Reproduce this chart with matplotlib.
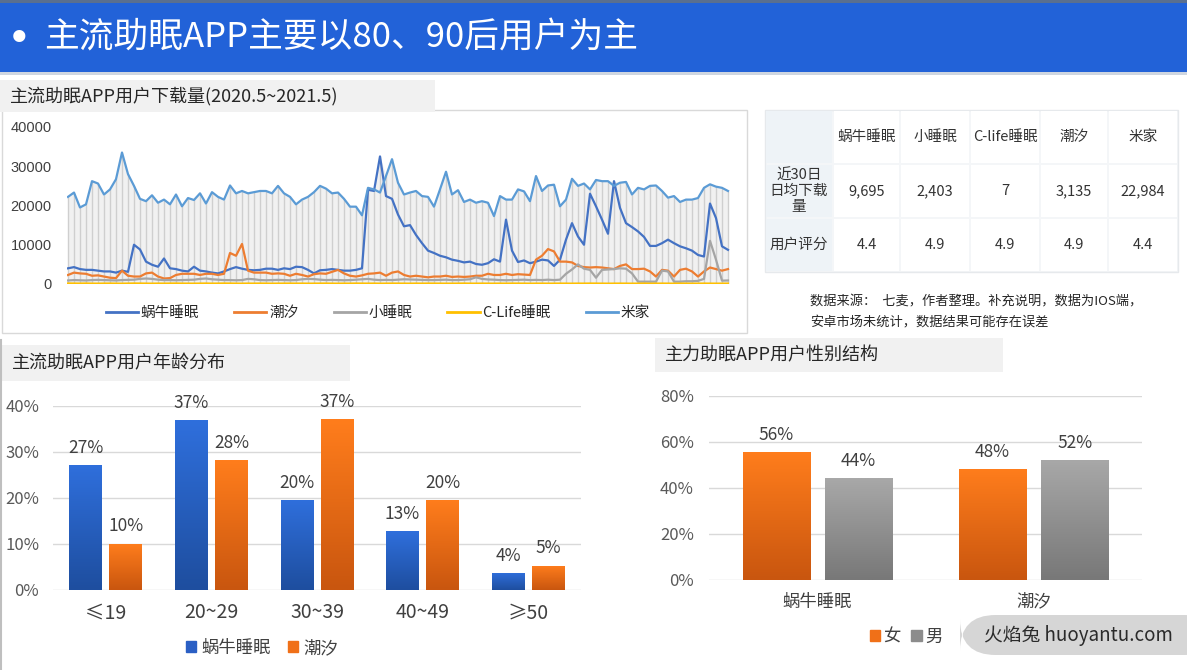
import numpy as np
import matplotlib.pyplot as plt
from matplotlib.patches import Rectangle, FancyBboxPatch, Patch
from matplotlib.lines import Line2D
from matplotlib.colors import LinearSegmentedColormap
from matplotlib.ticker import FuncFormatter, MultipleLocator

plt.rcParams['font.family'] = ['Noto Sans CJK SC', 'DejaVu Sans']

W, H = 1187, 670

# ---- daily downloads (sampled), 2020.5 ~ 2021.5 ----
mijia = [
    22200, 23300, 19500, 20300, 26200, 25600, 22800, 24100, 26700, 33500,
    28000, 25000, 21700, 21100, 22600, 20700, 21500, 20300, 22800, 19800,
    21900, 21400, 23100, 20500, 23400, 22200, 21500, 25100, 23100, 23700,
    23100, 23400, 23700, 23700, 23100, 25000, 23100, 22200, 20300, 21500,
    22200, 23400, 25000, 24300, 23100, 23300, 21700, 19700, 19700, 17500,
    24500, 24100, 23300, 27500, 31800, 25800, 22800, 23300, 23700, 22400,
    22200, 19700, 24100, 28600, 22800, 23900, 20900, 21500, 20700, 21100,
    20700, 17300, 22400, 21500, 21500, 24100, 23600, 21100, 27500, 23700,
    25100, 25300, 19800, 21500, 26800, 25000, 25600, 24100, 26500, 26200,
    26200, 25000, 25800, 26000, 22800, 24500, 24100, 25000, 25100, 23700,
    22000, 22400, 20900, 21500, 21500, 21900, 24500, 25400, 24800, 24500,
    23700,
]
woniu = [
    4000, 4300, 3800, 3600, 3600, 3400, 3200, 3200, 2900, 3400,
    3100, 10000, 8800, 5700, 4900, 4400, 6500, 4000, 3800, 3400,
    3200, 4400, 3400, 3200, 2900, 2700, 3200, 3800, 4300, 3900,
    3600, 3500, 3600, 3900, 3900, 3600, 4000, 3800, 4400, 4300,
    3600, 2700, 3500, 3600, 3800, 3600, 3400, 3400, 3600, 4000,
    24000, 23700, 32500, 22400, 21700, 17700, 14700, 15000, 12500, 10400,
    8500, 7900, 7200, 6800, 6200, 5900, 5500, 5700, 5100, 4900,
    5300, 6300, 5700, 16400, 8500, 5600, 6000, 5300, 5700, 6200,
    6000, 4600, 6200, 11300, 15500, 12100, 10000, 23000, 19800, 16400,
    12800, 26200, 19400, 15500, 14500, 13400, 12000, 9700, 9700, 10400,
    11300, 10400, 9600, 9100, 8500, 7400, 7000, 20500, 16800, 9600,
    8700,
]
chaoxi = [
    2300, 2900, 2700, 2600, 2100, 2200, 1900, 1600, 1500, 3400,
    2100, 1900, 1900, 2700, 2900, 1900, 1400, 1500, 2300, 2600,
    2600, 2600, 2300, 2600, 2600, 2300, 2600, 7900, 7200, 10200,
    3400, 2900, 2900, 2900, 2600, 2700, 2600, 2100, 2600, 2300,
    1900, 2500, 2700, 2600, 3100, 3600, 2700, 2100, 1900, 2200,
    2600, 2700, 2900, 2100, 2900, 3200, 2300, 1900, 2100, 1900,
    1700, 1900, 1900, 2100, 1800, 1900, 1800, 1900, 2100, 2100,
    2600, 2300, 2300, 2600, 2300, 2500, 2400, 2300, 6200, 7200,
    8900, 8300, 5700, 5700, 5500, 4600, 4300, 4200, 4300, 4200,
    4000, 3800, 4600, 5000, 3800, 3800, 3900, 3200, 1900, 3600,
    3400, 1900, 3600, 3900, 3200, 1900, 3200, 4200, 3800, 3400,
    3800,
]
xiaoshuimian = [
    900, 1000, 950, 900, 1000, 1050, 1000, 950, 900, 1000,
    1050, 1100, 1300, 1400, 1300, 1100, 1000, 1000, 950, 1000,
    1050, 1100, 1300, 1400, 1200, 1100, 1000, 1000, 950, 1000,
    1300, 1200, 1000, 950, 1000, 1050, 1000, 950, 1000, 1200,
    1300, 1250, 1100, 1000, 1050, 1000, 950, 1000, 1100, 1200,
    1300, 1100, 1000, 1050, 1000, 1100, 1200, 1150, 1100, 1050,
    1000, 1000, 1050, 1100, 1000, 1000, 1100, 1200, 1700, 1300,
    1150, 1100, 1000, 950, 1000, 1050, 1100, 1000, 1050, 1000,
    1100, 1000, 1100, 2600, 3700, 5000, 3900, 3600, 1600, 3600,
    3700, 3800, 4000, 3900, 2700, 600, 600, 600, 600, 3400,
    3200, 600, 600, 700, 700, 800, 1300, 11000, 6200, 850,
    900,
]
clife = [
    150, 130, 120, 140, 110, 100, 120, 130, 110, 100,
    120, 140, 130, 110, 100, 120, 110, 130, 140, 120,
    110, 100, 120, 130, 110, 120, 140, 130, 110, 100,
    120, 110, 130, 120, 100, 110, 120, 130, 110, 120,
    100, 110, 120, 130, 110, 100, 120, 110, 130, 120,
    110, 120, 100, 110, 130, 120, 110, 100, 120, 110,
    130, 120, 110, 100, 110, 120, 130, 110, 100, 120,
    110, 100, 120, 110, 130, 120, 110, 100, 110, 120,
    100, 110, 120, 110, 100, 120, 110, 130, 120, 110,
    100, 110, 120, 110, 100, 110, 120, 100, 110, 120,
    110, 100, 120, 110, 100, 110, 120, 110, 100, 110,
    120,
]
line_names = ['蜗牛睡眠', '潮汐', '小睡眠', 'C-Life睡眠', '米家']

# ---- table ----
table_cols = ['蜗牛睡眠', '小睡眠', 'C-life睡眠', '潮汐', '米家']
table_rows = ['近30日\n日均下载\n量', '用户评分']
table_downloads = ['9,695', '2,403', '7', '3,135', '22,984']
table_ratings = ['4.4', '4.9', '4.9', '4.9', '4.4']

# ---- age distribution (%) ----
age_groups = ['≤19', '20~29', '30~39', '40~49', '≥50']
age_woniu = [27.2, 36.9, 19.6, 12.8, 3.7]
age_chaoxi = [10.1, 28.2, 37.1, 19.6, 5.3]

# ---- gender (%) ----
gender_apps = ['蜗牛睡眠', '潮汐']
gender_female = [55.7, 48.3]
gender_male = [44.3, 52.2]

fig = plt.figure(figsize=(W / 100, H / 100), dpi=100, facecolor='white')


def add_ax(x0, y0, x1, y1):
    return fig.add_axes([x0 / W, 1 - y1 / H, (x1 - x0) / W, (y1 - y0) / H])


def box(x0, y0, x1, y1, **kw):
    # background shapes sit below the axes
    r = Rectangle((x0 / W, 1 - y1 / H), (x1 - x0) / W, (y1 - y0) / H,
                  transform=fig.transFigure, zorder=-5, **kw)
    fig.add_artist(r)
    return r


def ftext(x, y, s, **kw):
    return fig.text(x / W, 1 - y / H, s, **kw)


def grad_bars(ax, xs, hs, width, c_top, c_bot):
    bars = ax.bar(xs, hs, width, color=c_bot, zorder=2)
    cmap = LinearSegmentedColormap.from_list('g', [c_bot, c_top])
    grad = np.linspace(0, 1, 64).reshape(-1, 1)
    for b in bars:
        x0, y0 = b.get_x(), b.get_y()
        im = ax.imshow(grad, extent=[x0, x0 + b.get_width(), y0, y0 + b.get_height()],
                       origin='lower', cmap=cmap, aspect='auto', zorder=3)
        im.set_clip_path(b)
    return bars


# ---- banner ----
box(0, 0, W, 72, facecolor='#2262d8', edgecolor='none')
box(0, 0, W, 3, facecolor='#5a6f8f', edgecolor='none')
box(0, 72, W, 75, facecolor='#cfd6e0', edgecolor='none')
ftext(19, 40, '•', color='white', fontsize=30, va='center', ha='center',
      family='DejaVu Sans')
ftext(44, 38, '主流助眠APP主要以80、90后用户为主', color='white', fontsize=25,
      va='center', ha='left')

# ---- line chart panel ----
box(2, 110, 747, 333, facecolor='white', edgecolor='#d9d9d9', linewidth=1)
box(0, 80, 435, 112, facecolor='#f1f1f1', edgecolor='none')
ftext(10, 96, '主流助眠APP用户下载量(2020.5~2021.5)', color='#262626',
      fontsize=13, va='center')

ax1 = add_ax(67, 127, 732, 284)
series = [woniu, chaoxi, xiaoshuimian, clife, mijia]
colors = ['#4472c4', '#ed7d31', '#a5a5a5', '#ffc000', '#5b9bd5']
xs = np.arange(len(mijia))
lo = np.min(np.array(series), axis=0)
hi = np.max(np.array(series), axis=0)
ax1.fill_between(xs, lo, hi, color='#f1f1f1', lw=0, zorder=1)
ax1.vlines(xs, lo, hi, color='#cfcfcf', lw=1.0, zorder=1)
handles = []
for i, (s, c, n) in enumerate(zip(series, colors, line_names)):
    ax1.plot(xs, s, color=c, lw=1.6, zorder=3 + i)
    handles.append(Line2D([], [], color=c, lw=2))
ax1.set_xlim(-1 / 6, len(mijia) - 1 + 4 / 6)
ax1.set_ylim(0, 40000)
ax1.yaxis.set_major_locator(MultipleLocator(10000))
ax1.set_xticks([])
ax1.tick_params(axis='y', length=0, pad=11, labelsize=10.5, labelcolor='#404040')
for lab in ax1.get_yticklabels():
    lab.set_fontfamily(['Liberation Sans', 'DejaVu Sans'])
for sp in ax1.spines.values():
    sp.set_visible(False)
ax1.patch.set_alpha(0)
fig.legend(handles, line_names, loc='center', bbox_to_anchor=(378 / W, 1 - 313 / H),
           ncol=5, frameon=False, fontsize=10.5, handlelength=2.2,
           handletextpad=0.2, columnspacing=2.4, labelcolor='#262626')

# ---- table ----
col_edges = [765, 833, 900, 970, 1040, 1108, 1178]
row_edges = [110, 164, 218, 272]
box(765, 110, 1178, 272, facecolor='#f4f6f8', edgecolor='#e6e9ec', linewidth=1)
for r in range(3):
    for c in range(6):
        fc = '#eef3f7' if c == 0 else 'white'
        box(col_edges[c] + 1, row_edges[r] + 1, col_edges[c + 1] - 1, row_edges[r + 1] - 1,
            facecolor=fc, edgecolor='none')
for c, name in enumerate(table_cols):
    cx = (col_edges[c + 1] + col_edges[c + 2]) / 2
    ftext(cx, 137, name, ha='center', va='center', fontsize=10.5, color='#333333')
    ftext(cx, 191, table_downloads[c], ha='center', va='center', fontsize=10.5, color='#333333')
    ftext(cx, 245, table_ratings[c], ha='center', va='center', fontsize=10.5, color='#333333')
ftext(799, 191, table_rows[0], ha='center', va='center', fontsize=10.5,
      color='#333333', linespacing=1.15)
ftext(799, 245, table_rows[1], ha='center', va='center', fontsize=10.5, color='#333333')
ftext(810, 302, '数据来源：  七麦，作者整理。补充说明，数据为IOS端，', fontsize=9.5,
      va='center', color='#262626')
ftext(810, 322, '安卓市场未统计，数据结果可能存在误差', fontsize=9.5,
      va='center', color='#262626')

# ---- age distribution ----
fig.add_artist(Line2D([1 / W, 1 / W], [1 - 340 / H, 0], transform=fig.transFigure,
                      color='#bfbfbf', lw=1.5))
box(2, 345, 350, 381, facecolor='#f1f1f1', edgecolor='none')
ftext(12, 363, '主流助眠APP用户年龄分布', color='#262626', fontsize=13, va='center')

ax2 = add_ax(53, 406, 581, 590)
gx = np.arange(len(age_groups))
b1 = grad_bars(ax2, gx - 0.19, age_woniu, 0.31, '#2f6fdc', '#1e4e9f')
b2 = grad_bars(ax2, gx + 0.19, age_chaoxi, 0.31, '#ff7d1c', '#c9560f')
for bars, vals in [(b1, age_woniu), (b2, age_chaoxi)]:
    for b, v in zip(bars, vals):
        ax2.annotate(f'{v:.0f}%', (b.get_x() + b.get_width() / 2, v), xytext=(0, 6),
                     textcoords='offset points', ha='center', va='bottom',
                     fontsize=12.5, color='#404040')
ax2.set_xlim(-0.5, len(age_groups) - 0.5)
ax2.set_ylim(0, 40)
ax2.yaxis.set_major_locator(MultipleLocator(10))
ax2.yaxis.set_major_formatter(FuncFormatter(lambda v, p: f'{v:.0f}%'))
ax2.set_xticks(gx)
ax2.set_xticklabels(age_groups)
ax2.tick_params(axis='y', length=0, pad=10, labelsize=12, labelcolor='#595959')
ax2.tick_params(axis='x', length=0, pad=9, labelsize=14, labelcolor='#404040')
ax2.grid(axis='y', color='#d9d9d9', lw=1)
ax2.set_axisbelow(True)
for sp in ax2.spines.values():
    sp.set_visible(False)
fig.legend([Patch(color='#2a5fc4'), Patch(color='#f07018')], ['蜗牛睡眠', '潮汐'],
           loc='center', bbox_to_anchor=(262 / W, 1 - 648 / H), ncol=2, frameon=False,
           fontsize=12.5, handlelength=0.6, handleheight=0.6, handletextpad=0.3,
           columnspacing=1.0, labelcolor='#404040')

# ---- gender ----
box(655, 338, 1003, 372, facecolor='#f1f1f1', edgecolor='none')
ftext(665, 355, '主力助眠APP用户性别结构', color='#262626', fontsize=13, va='center')

ax3 = add_ax(709, 396, 1142, 580)
gx2 = np.arange(len(gender_apps))
b3 = grad_bars(ax3, gx2 - 0.19, gender_female, 0.31, '#ff7d1c', '#c9560f')
b4 = grad_bars(ax3, gx2 + 0.19, gender_male, 0.31, '#a8a8a8', '#787878')
for bars, vals in [(b3, gender_female), (b4, gender_male)]:
    for b, v in zip(bars, vals):
        ax3.annotate(f'{v:.0f}%', (b.get_x() + b.get_width() / 2, v), xytext=(0, 6),
                     textcoords='offset points', ha='center', va='bottom',
                     fontsize=12.5, color='#404040')
ax3.set_xlim(-0.5, len(gender_apps) - 0.5)
ax3.set_ylim(0, 80)
ax3.yaxis.set_major_locator(MultipleLocator(20))
ax3.yaxis.set_major_formatter(FuncFormatter(lambda v, p: f'{v:.0f}%'))
ax3.set_xticks(gx2)
ax3.set_xticklabels(gender_apps)
ax3.tick_params(axis='y', length=0, pad=11, labelsize=12, labelcolor='#595959')
ax3.tick_params(axis='x', length=0, pad=9, labelsize=12.5, labelcolor='#404040')
ax3.grid(axis='y', color='#d9d9d9', lw=1)
ax3.set_axisbelow(True)
for sp in ax3.spines.values():
    sp.set_visible(False)
fig.legend([Patch(color='#f07018'), Patch(color='#8c8c8c')], ['女', '男'],
           loc='center', bbox_to_anchor=(906 / W, 1 - 637 / H), ncol=2, frameon=False,
           fontsize=12.5, handlelength=0.6, handleheight=0.6, handletextpad=0.2,
           columnspacing=0.6, labelcolor='#404040')

# ---- site badge ----
badge = FancyBboxPatch((960 / W, 1 - 655 / H), 260 / W, 40 / H,
                       boxstyle='round,pad=0,rounding_size=0.03',
                       transform=fig.transFigure, facecolor='#d6d6d6', edgecolor='none',
                       mutation_aspect=W / H, zorder=5)
fig.add_artist(badge)
ftext(1078, 636, '火焰兔 huoyantu.com', ha='center', va='center', fontsize=13.5,
      color='#2b2b2b', zorder=6)

fig.savefig('out.png', dpi=100, facecolor='white')
